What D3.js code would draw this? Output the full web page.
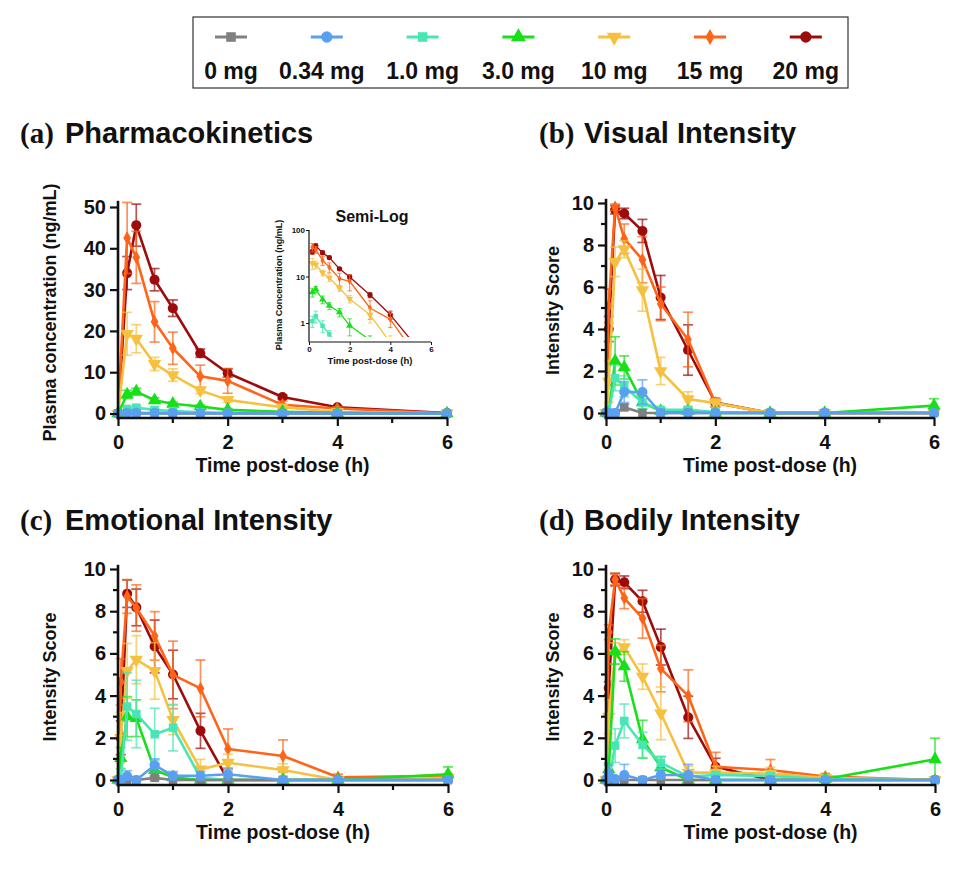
<!DOCTYPE html>
<html><head><meta charset="utf-8">
<script src="https://cdn.jsdelivr.net/npm/d3@7"></script>
<style>body{margin:0;background:#fff} svg{display:block}</style>
</head><body><svg id="c" width="960" height="870"></svg>
<script>
// ---------------- DATA ----------------
const doses = ["0 mg", "0.34 mg", "1.0 mg", "3.0 mg", "10 mg", "15 mg", "20 mg"];
const doseColors = ["#808080", "#5aa0f2", "#48e6b4", "#18e018", "#f6c140", "#ff6418", "#9c0c0c"];
const doseSymbols = ["square", "circle", "square", "triangle", "triangleDown", "diamond", "circle"];

const timePK = [0, 1/6, 1/3, 2/3, 1, 1.5, 2, 3, 4, 6];
const timeSubj = [0, 0.05, 1/6, 1/3, 2/3, 1, 1.5, 2, 3, 4, 6];
const xTicks = [0, 2, 4, 6];
const pkTicks = [0, 10, 20, 30, 40, 50];
const scoreTicks = [0, 2, 4, 6, 8, 10];
const semiLogTicks = [1, 10, 100];

const pkMean = [
  [0, 0, 0, 0, 0, 0, 0, 0, 0, 0],
  [0, 0.1, 0.15, 0.1, 0.08, 0.05, 0.03, 0, 0, 0],
  [0, 1.1, 1.4, 0.87, 0.57, 0.3, 0.15, 0.05, 0, 0],
  [0, 4.6, 5.3, 3.2, 2.35, 1.7, 0.88, 0.43, 0.15, 0],
  [0, 19.3, 18.1, 12.0, 9.3, 5.6, 3.3, 1.5, 0.38, 0.02],
  [0, 42.5, 37.8, 22.2, 15.8, 9.0, 7.9, 2.1, 1.2, 0.07],
  [0, 34.0, 45.6, 32.4, 25.5, 14.6, 9.8, 4.0, 1.5, 0.13]
];
const pkSD = [
  [0, 0, 0, 0, 0, 0, 0, 0, 0, 0],
  [0, 0.05, 0.1, 0.05, 0.03, 0.02, 0.01, 0, 0, 0],
  [0, 0.3, 0.4, 0.25, 0.12, 0.08, 0.05, 0.02, 0, 0],
  [0, 1.0, 0.8, 0.6, 0.4, 0.35, 0.35, 0.1, 0.05, 0],
  [0, 5.2, 3.4, 1.6, 1.5, 0.8, 0.6, 0.5, 0.15, 0],
  [0, 8.6, 6.3, 4.9, 3.9, 2.7, 3.0, 0.9, 0.4, 0],
  [0, 4.0, 5.1, 2.7, 2.0, 1.0, 1.0, 0.5, 0.3, 0]
];

const visualMean = [
  [0, 0, 0, 0.27, 0, 0, 0, 0, 0, 0, 0],
  [0, 0, 0, 1.0, 1.0, 0, 0, 0, 0, 0, 0],
  [0, 0, 1.66, 1.27, 0.5, 0.15, 0.15, 0.05, 0, 0, 0],
  [0, 0, 2.48, 2.17, 0.5, 0.1, 0.1, 0, 0, 0, 0.35],
  [0, 1.5, 7.2, 7.8, 5.85, 2.0, 0.66, 0.48, 0, 0, 0],
  [0, 5.1, 9.8, 8.3, 7.3, 5.2, 3.5, 0.48, 0, 0, 0],
  [0, 4.0, 9.68, 9.5, 8.67, 5.5, 3.0, 0.5, 0, 0, 0]
];
const visualSD = [
  [0, 0, 0, 0.15, 0, 0, 0, 0, 0, 0, 0],
  [0, 0, 0, 0.5, 0.58, 0, 0, 0, 0, 0, 0],
  [0, 0, 0.6, 0.5, 0.3, 0.1, 0.1, 0.05, 0, 0, 0],
  [0, 0, 1.15, 0.55, 0.3, 0.1, 0.1, 0, 0, 0, 0.33],
  [0, 1.0, 0.7, 0.4, 1.0, 0.65, 0.35, 0.2, 0, 0, 0],
  [0, 0.8, 0.15, 0.7, 1.1, 0.8, 1.3, 0.2, 0, 0, 0],
  [0, 0.6, 0.2, 0.25, 0.55, 1.05, 1.2, 0.2, 0, 0, 0]
];

const emotionalMean = [
  [0, 0, 0, 0, 0.1, 0, 0, 0, 0, 0, 0],
  [0, 0, 0.19, 0, 0.7, 0.2, 0.2, 0.27, 0, 0, 0],
  [0, 0, 3.48, 3.13, 2.17, 2.48, 0.1, 0, 0, 0, 0],
  [0, 1.04, 3.0, 2.93, 0.47, 0.13, 0, 0, 0, 0, 0.27],
  [0, 2.0, 5.17, 5.7, 5.17, 2.85, 0.5, 0.82, 0.47, 0, 0.1],
  [0, 4.65, 8.7, 8.15, 6.83, 4.98, 4.34, 1.47, 1.14, 0.13, 0.2],
  [0, 2.0, 8.83, 8.18, 6.33, 5.0, 2.33, 0, 0, 0, 0]
];
const emotionalSD = [
  [0, 0, 0, 0, 0.1, 0, 0, 0, 0, 0, 0],
  [0, 0, 0.25, 0, 0.3, 0.2, 0.2, 0.3, 0, 0, 0],
  [0, 0, 1.6, 1.6, 1.23, 1.1, 0.1, 0, 0, 0, 0],
  [0, 0.5, 0.95, 0.87, 0.3, 0.1, 0, 0, 0, 0, 0.35],
  [0, 1.2, 1.3, 1.14, 1.34, 0.7, 0.48, 0.4, 0.3, 0, 0.1],
  [0, 1.1, 0.8, 1.1, 1.15, 1.6, 1.35, 0.95, 0.76, 0.15, 0.1],
  [0, 0.8, 0.65, 0.87, 1.25, 1.15, 0.83, 0, 0, 0, 0]
];

const bodilyMean = [
  [0, 0, 0, 0, 0, 0, 0, 0, 0, 0, 0],
  [0, 0.3, 0.05, 0.24, 0, 0.24, 0.24, 0, 0, 0, 0],
  [0, 0, 1.63, 2.8, 1.66, 0.82, 0.16, 0.24, 0.19, 0.05, 0],
  [0, 0.5, 6.09, 5.38, 1.93, 0.6, 0, 0, 0, 0.05, 0.98],
  [0, 3.0, 6.0, 6.3, 4.9, 3.16, 0.35, 0.35, 0.3, 0.1, 0],
  [0, 7.0, 9.5, 8.62, 7.66, 5.28, 3.99, 0.63, 0.47, 0.16, 0],
  [0, 4.36, 9.5, 9.37, 8.47, 6.3, 2.97, 0.63, 0, 0, 0]
];
const bodilySD = [
  [0, 0, 0, 0, 0, 0, 0, 0, 0, 0, 0],
  [0, 0.4, 0.1, 0.5, 0, 0.2, 0.5, 0, 0, 0, 0],
  [0, 0, 0.8, 0.8, 0.6, 0.3, 0.1, 0.1, 0.1, 0, 0],
  [0, 0.3, 0.6, 0.7, 0.9, 0.5, 0, 0, 0, 0.05, 1.0],
  [0, 0.8, 0.5, 0.35, 0.6, 1.25, 0.3, 0.3, 0.3, 0.1, 0],
  [0, 0.35, 0.25, 0.5, 0.94, 1.1, 1.23, 0.68, 0.5, 0.15, 0],
  [0, 0.3, 0.3, 0.3, 0.52, 0.85, 1.0, 0.4, 0, 0, 0]
];

// ---------------- DRAWING ----------------
const SANS = "'Liberation Sans', Arial, Helvetica, sans-serif";
const SERIF = "'Liberation Serif', 'Times New Roman', serif";
const INK = "#111";
const svg = d3.select("#c");
const drawOrder = [6, 5, 4, 3, 2, 0, 1];

function symbolPath(kind, size) {
  const map = {square: d3.symbolSquare, circle: d3.symbolCircle, triangle: d3.symbolTriangle,
               triangleDown: d3.symbolTriangle, diamond: d3.symbolDiamond};
  return d3.symbol().type(map[kind]).size(size)();
}
function addMarker(g, kind, cx, cy, size, color) {
  g.append("path").attr("d", symbolPath(kind, size))
    .attr("transform", `translate(${cx},${cy})` + (kind === "triangleDown" ? " rotate(180)" : ""))
    .attr("fill", color).attr("stroke", "none");
}
const sizeFor = {square: 72, circle: 80, triangle: 78, triangleDown: 78, diamond: 52};

// Legend
svg.append("rect").attr("x", 193).attr("y", 17).attr("width", 655).attr("height", 71)
  .attr("fill", "none").attr("stroke", "#333").attr("stroke-width", 1.2);
doses.forEach((d, i) => {
  const cx = 231 + i * 95.8;
  const lg = svg.append("g");
  lg.append("line").attr("x1", cx - 16).attr("x2", cx + 16).attr("y1", 37).attr("y2", 37)
    .attr("stroke", doseColors[i]).attr("stroke-width", 3);
  addMarker(lg, doseSymbols[i], cx, 37, sizeFor[doseSymbols[i]] + 20, doseColors[i]);
  lg.append("text").attr("x", cx - (i === 1 ? 5 : 0)).attr("y", 79).attr("text-anchor", "middle")
    .attr("font-family", SANS).attr("font-weight", "bold").attr("font-size", 23).attr("fill", INK).text(d);
});

function title(x, y, letter, text) {
  svg.append("text").attr("x", x).attr("y", y).attr("font-family", SERIF).attr("font-weight", "bold")
    .attr("font-size", 29).attr("fill", INK).text(letter);
  svg.append("text").attr("x", x + 45).attr("y", y).attr("font-family", SANS).attr("font-weight", "bold")
    .attr("font-size", 29).attr("fill", INK).text(text);
}
title(20, 143, "(a)", "Pharmacokinetics");
title(539, 143, "(b)", "Visual Intensity");
title(20, 530, "(c)", "Emotional Intensity");
title(539, 530, "(d)", "Bodily Intensity");

function drawSeries(g, x, y, times, means, sds, opt) {
  drawOrder.forEach(i => {
    const pts = times.map((t, j) => ({t, v: means[i][j], s: sds[i][j]}));
    const col = doseColors[i];
    const sg = g.append("g");
    const lo = opt.lo;
    pts.filter(p => p.s > 0 && (!opt.log || p.v > 0)).forEach(p => {
      const yTop = y(p.v + p.s);
      const yBot = y(Math.max(p.v - p.s, lo));
      const xx = x(p.t);
      sg.append("line").attr("x1", xx).attr("x2", xx).attr("y1", yTop).attr("y2", yBot)
        .attr("stroke", col).attr("stroke-width", opt.ew).attr("opacity", 0.7);
      [yTop, yBot].forEach(yy => {
        sg.append("line").attr("x1", xx - opt.cap).attr("x2", xx + opt.cap).attr("y1", yy).attr("y2", yy)
          .attr("stroke", col).attr("stroke-width", opt.ew).attr("opacity", 0.7);
      });
    });
    const line = d3.line().x(d => x(d.t)).y(d => y(d.v));
    if (opt.log) line.defined(d => d.v > 0);
    sg.append("path").attr("d", line(pts)).attr("fill", "none").attr("stroke", col)
      .attr("stroke-width", opt.lw).attr("stroke-linejoin", "round");
    pts.filter(p => !opt.log || p.v > 0).forEach(p => {
      addMarker(sg, doseSymbols[i], x(p.t), y(p.v), opt.ms * sizeFor[doseSymbols[i]], col);
    });
  });
}

function panel(cfg) {
  const x = d3.scaleLinear().domain([0, 6]).range([cfg.x0, cfg.x1]);
  const y = d3.scaleLinear().domain([0, cfg.ymax]).range([cfg.y0, cfg.y1]);
  const g = svg.append("g");
  const dg = g.append("g");
  drawSeries(dg, x, y, cfg.times, cfg.mean, cfg.sd, {lo: 0, ew: 1.7, cap: 5, lw: 2.6, ms: 1});

  const ax = g.append("g");
  const ya = ax.append("g").attr("transform", `translate(${cfg.x0},0)`)
    .call(d3.axisLeft(y).tickValues(cfg.yticks).tickSize(8).tickSizeOuter(0).tickPadding(4));
  ya.select(".domain").remove();
  ya.selectAll("line").attr("stroke", INK).attr("stroke-width", 2.2);
  ya.selectAll("text").attr("font-family", SANS).attr("font-weight", "bold").attr("font-size", 20).attr("fill", INK);
  if (cfg.yminor) cfg.yminor.forEach(v => {
    ax.append("line").attr("x1", cfg.x0 - 5).attr("x2", cfg.x0).attr("y1", y(v)).attr("y2", y(v))
      .attr("stroke", INK).attr("stroke-width", 2.2);
  });
  ax.append("line").attr("x1", cfg.x0).attr("x2", cfg.x0).attr("y1", cfg.xAxisY + 1.2).attr("y2", y(cfg.ytop))
    .attr("stroke", INK).attr("stroke-width", 2.6);
  const xa = ax.append("g").attr("transform", `translate(0,${cfg.xAxisY})`)
    .call(d3.axisBottom(x).tickValues(xTicks).tickSize(8).tickSizeOuter(0).tickPadding(9).tickFormat(d3.format("d")));
  xa.select(".domain").remove();
  xa.selectAll("line").attr("stroke", INK).attr("stroke-width", 2.2);
  xa.selectAll("text").attr("font-family", SANS).attr("font-weight", "bold").attr("font-size", 20).attr("fill", INK);
  [1, 3, 5].forEach(v => {
    ax.append("line").attr("x1", x(v)).attr("x2", x(v)).attr("y1", cfg.xAxisY).attr("y2", cfg.xAxisY + 5)
      .attr("stroke", INK).attr("stroke-width", 2.2);
  });
  ax.append("line").attr("x1", cfg.x0 - 1.3).attr("x2", cfg.x1 + 1).attr("y1", cfg.xAxisY).attr("y2", cfg.xAxisY)
    .attr("stroke", INK).attr("stroke-width", 2.6);
  ax.append("text").attr("x", (cfg.x0 + cfg.x1) / 2).attr("y", cfg.xAxisY + 54).attr("text-anchor", "middle")
    .attr("font-family", SANS).attr("font-weight", "bold").attr("font-size", 19.5).attr("fill", INK)
    .text("Time post-dose (h)");
  const ym = (cfg.xAxisY + y(cfg.ymax)) / 2;
  ax.append("text").attr("transform", `translate(${cfg.ylabX},${ym}) rotate(-90)`).attr("text-anchor", "middle")
    .attr("dominant-baseline", "central")
    .attr("font-family", SANS).attr("font-weight", "bold").attr("font-size", cfg.ylabSize).attr("fill", INK)
    .text(cfg.ylabel);
}

panel({x0: 118, x1: 447, y0: 413.5, y1: 207, ymax: 50, ytop: 51.5, yticks: pkTicks, xAxisY: 418,
  times: timePK, mean: pkMean, sd: pkSD, ylabel: "Plasma concentration (ng/mL)", ylabX: 50, ylabSize: 18});
panel({x0: 606, x1: 934, y0: 413, y1: 203, ymax: 10, ytop: 10.2, yticks: scoreTicks, yminor: [1, 3, 5, 7, 9], xAxisY: 418,
  times: timeSubj, mean: visualMean, sd: visualSD, ylabel: "Intensity Score", ylabX: 553, ylabSize: 18});
panel({x0: 118, x1: 448, y0: 780, y1: 569, ymax: 10, ytop: 10.2, yticks: scoreTicks, yminor: [1, 3, 5, 7, 9], xAxisY: 785,
  times: timeSubj, mean: emotionalMean, sd: emotionalSD, ylabel: "Intensity Score", ylabX: 50, ylabSize: 18});
panel({x0: 606, x1: 935, y0: 780, y1: 569, ymax: 10, ytop: 10.2, yticks: scoreTicks, yminor: [1, 3, 5, 7, 9], xAxisY: 785,
  times: timeSubj, mean: bodilyMean, sd: bodilySD, ylabel: "Intensity Score", ylabX: 553, ylabSize: 18});

// ---------------- INSET (semi-log) ----------------
(function inset() {
  const x0 = 309, x1 = 431, axY = 342;
  const x = d3.scaleLinear().domain([0, 6]).range([x0, x1]);
  const y = d3.scaleLog().domain([0.5, 100]).range([337, 230]);
  const g = svg.append("g");
  svg.append("defs").append("clipPath").attr("id", "insetClip")
    .append("rect").attr("x", x0 - 4).attr("y", 222).attr("width", x1 - x0 + 8).attr("height", 337 - 222);
  const dg = g.append("g").attr("clip-path", "url(#insetClip)");
  drawSeries(dg, x, y, timePK, pkMean, pkSD, {lo: 0.3, ew: 1.1, cap: 2.2, lw: 1.3, ms: 0.28, log: true});

  const ya = g.append("g").attr("transform", `translate(${x0},0)`)
    .call(d3.axisLeft(y).tickValues(semiLogTicks).tickSize(3).tickPadding(1).tickFormat(d3.format("d")));
  ya.select(".domain").remove();
  ya.selectAll("line").attr("stroke", INK).attr("stroke-width", 1);
  ya.selectAll("text").attr("font-family", SANS).attr("font-weight", "bold").attr("font-size", 8).attr("fill", INK);
  g.append("line").attr("x1", x0).attr("x2", x0).attr("y1", axY).attr("y2", y(100))
    .attr("stroke", INK).attr("stroke-width", 1.2);
  const xa = g.append("g").attr("transform", `translate(0,${axY})`)
    .call(d3.axisBottom(x).tickValues(xTicks).tickSize(3).tickPadding(1).tickFormat(d3.format("d")));
  xa.select(".domain").remove();
  xa.selectAll("line").attr("stroke", INK).attr("stroke-width", 1);
  xa.selectAll("text").attr("font-family", SANS).attr("font-weight", "bold").attr("font-size", 8).attr("fill", INK);
  g.append("line").attr("x1", x0).attr("x2", x1).attr("y1", axY).attr("y2", axY)
    .attr("stroke", INK).attr("stroke-width", 1.2);
  g.append("text").attr("x", 372).attr("y", 222).attr("text-anchor", "middle")
    .attr("font-family", SANS).attr("font-weight", "bold").attr("font-size", 16).attr("fill", INK).text("Semi-Log");
  g.append("text").attr("x", 370).attr("y", 364).attr("text-anchor", "middle")
    .attr("font-family", SANS).attr("font-weight", "bold").attr("font-size", 9.5).attr("fill", INK).text("Time post-dose (h)");
  g.append("text").attr("transform", "translate(279,285) rotate(-90)").attr("text-anchor", "middle")
    .attr("dominant-baseline", "central")
    .attr("font-family", SANS).attr("font-weight", "bold").attr("font-size", 9).attr("fill", INK)
    .text("Plasma Concentration (ng/mL)");
})();
</script>
</body></html>
